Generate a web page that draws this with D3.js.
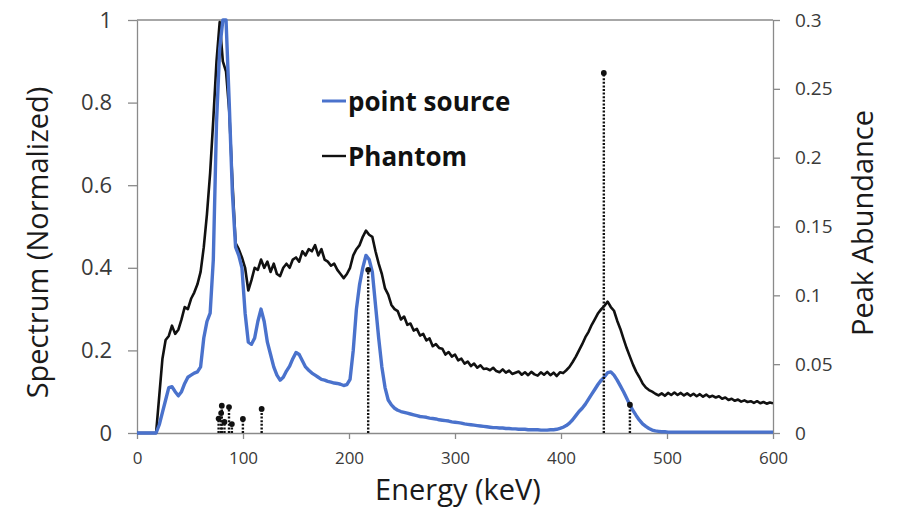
<!DOCTYPE html>
<html>
<head>
<meta charset="utf-8">
<script src="https://cdn.jsdelivr.net/npm/d3@7"></script>
<style>
  html, body { margin: 0; padding: 0; background: #fff; }
  svg { display: block; }
</style>
</head>
<body>
<svg id="chart" width="897" height="510"></svg>
<script>
// Channel width of both spectra, keV (channel i sits at i * energyStep)
const energyStep = 3;

// Normalized spectrum of the point source, 0 - 600 keV
const pointSource = [
  0, 0, 0, 0, 0, 0, 0, 0.02, 0.05, 0.08,
  0.11, 0.112, 0.10, 0.09, 0.10, 0.12, 0.135, 0.14, 0.145, 0.148,
  0.16, 0.23, 0.27, 0.29, 0.42, 0.75, 0.93, 1.0, 1.0, 0.80,
  0.58, 0.45, 0.43, 0.40, 0.29, 0.22, 0.215, 0.23, 0.27, 0.30,
  0.27, 0.22, 0.19, 0.16, 0.14, 0.128, 0.135, 0.15, 0.162, 0.18,
  0.195, 0.19, 0.175, 0.16, 0.152, 0.145, 0.14, 0.135, 0.13, 0.128,
  0.125, 0.123, 0.121, 0.12, 0.118, 0.115, 0.117, 0.13, 0.20, 0.30,
  0.36, 0.40, 0.43, 0.42, 0.39, 0.31, 0.23, 0.16, 0.11, 0.08,
  0.068, 0.06, 0.055, 0.052, 0.05, 0.048, 0.046, 0.044, 0.042, 0.04,
  0.039, 0.038, 0.036, 0.035, 0.034, 0.032, 0.031, 0.03, 0.029, 0.027,
  0.026, 0.025, 0.024, 0.022, 0.021, 0.02, 0.019, 0.018, 0.017, 0.016,
  0.015, 0.014, 0.013, 0.013, 0.012, 0.012, 0.011, 0.011, 0.01, 0.01,
  0.009, 0.009, 0.009, 0.008, 0.008, 0.008, 0.008, 0.007, 0.007, 0.007,
  0.008, 0.008, 0.009, 0.011, 0.014, 0.018, 0.024, 0.032, 0.042, 0.052,
  0.06, 0.07, 0.082, 0.094, 0.106, 0.118, 0.128, 0.136, 0.146, 0.148,
  0.14, 0.128, 0.114, 0.1, 0.084, 0.068, 0.054, 0.042, 0.031, 0.022,
  0.016, 0.011, 0.007, 0.005, 0.004, 0.003, 0.003, 0.002, 0.002, 0.002,
  0.002, 0.002, 0.002, 0.002, 0.002, 0.002, 0.002, 0.002, 0.002, 0.002,
  0.002, 0.002, 0.002, 0.002, 0.002, 0.002, 0.002, 0.002, 0.002, 0.002,
  0.002, 0.002, 0.002, 0.002, 0.002, 0.002, 0.002, 0.002, 0.002, 0.002,
  0.002
];

// Normalized spectrum measured in the phantom, 0 - 600 keV
const phantom = [
  0, 0, 0, 0, 0, 0, 0, 0.09, 0.18, 0.225,
  0.235, 0.26, 0.24, 0.25, 0.275, 0.305, 0.30, 0.325, 0.34, 0.36,
  0.39, 0.45, 0.53, 0.63, 0.76, 0.90, 0.995, 0.90, 0.875, 0.78,
  0.61, 0.46, 0.445, 0.425, 0.40, 0.345, 0.37, 0.40, 0.395, 0.42,
  0.40, 0.415, 0.39, 0.41, 0.385, 0.38, 0.40, 0.41, 0.40, 0.42,
  0.425, 0.415, 0.44, 0.43, 0.445, 0.44, 0.455, 0.43, 0.445, 0.42,
  0.415, 0.405, 0.41, 0.395, 0.385, 0.375, 0.385, 0.40, 0.43, 0.445,
  0.455, 0.475, 0.49, 0.48, 0.475, 0.44, 0.41, 0.385, 0.35, 0.335,
  0.31, 0.30, 0.295, 0.275, 0.282, 0.262, 0.265, 0.248, 0.252, 0.236,
  0.24, 0.224, 0.229, 0.21, 0.215, 0.206, 0.204, 0.19, 0.196, 0.185,
  0.19, 0.176, 0.18, 0.168, 0.173, 0.162, 0.168, 0.158, 0.164, 0.155,
  0.156, 0.152, 0.158, 0.15, 0.147, 0.154, 0.146, 0.151, 0.143, 0.146,
  0.149, 0.141, 0.147, 0.14, 0.148, 0.142, 0.139, 0.147, 0.141, 0.148,
  0.14, 0.146, 0.138, 0.147, 0.145, 0.152, 0.16, 0.172, 0.185, 0.2,
  0.215, 0.232, 0.245, 0.262, 0.276, 0.29, 0.3, 0.308, 0.318, 0.305,
  0.296, 0.272, 0.252, 0.228, 0.205, 0.185, 0.165, 0.148, 0.135, 0.12,
  0.11, 0.104, 0.1, 0.095, 0.091, 0.096, 0.09, 0.097, 0.092, 0.098,
  0.092, 0.097, 0.091, 0.096, 0.09, 0.095, 0.089, 0.094, 0.088, 0.093,
  0.087, 0.09, 0.086, 0.089, 0.083, 0.086, 0.08, 0.083, 0.078, 0.081,
  0.076, 0.079, 0.075, 0.077, 0.073, 0.077, 0.072, 0.075, 0.071, 0.074,
  0.072
];

// Emission lines: energy (keV) and abundance per decay (right axis)
const peakEnergy    = [77.0, 79.4, 80.0, 82.5, 86.8, 89.5, 99.9, 117.6, 218.1, 440.4, 465.0];
const peakAbundance = [0.0105, 0.0145, 0.0198, 0.008, 0.0188, 0.0065, 0.0102, 0.0175, 0.1185, 0.2615, 0.0206];

// Axis ticks and their labels
const energyTicks       = [0, 100, 200, 300, 400, 500, 600];
const energyTickLabels  = ["0", "100", "200", "300", "400", "500", "600"];
const spectrumTicks     = [0, 0.2, 0.4, 0.6, 0.8, 1];
const spectrumTickLabels = ["0", "0.2", "0.4", "0.6", "0.8", "1"];
const abundanceTicks    = [0, 0.05, 0.1, 0.15, 0.2, 0.25, 0.3];
const abundanceTickLabels = ["0", "0.05", "0.1", "0.15", "0.2", "0.25", "0.3"];

// Series names (legend order)
const seriesNames  = ["point source", "Phantom"];
const seriesColors = ["#4a72cc", "#111111"];

const FONT = "'Open Sans', 'Noto Sans', sans-serif";
const AXIS_GREY = "#8a8a8a";

const svg = d3.select("#chart");
const plot = { left: 137, right: 773, top: 20, bottom: 433 };

const x = d3.scaleLinear().domain([0, 600]).range([plot.left, plot.right]);
const y = d3.scaleLinear().domain([0, 1]).range([plot.bottom, plot.top]);
const yR = d3.scaleLinear().domain([0, 0.3]).range([plot.bottom, plot.top]);

svg.append("defs").append("clipPath").attr("id", "plot-clip")
  .append("rect")
  .attr("x", plot.left).attr("y", plot.top - 2)
  .attr("width", plot.right - plot.left).attr("height", plot.bottom - plot.top + 4);

// Frame line along the top of the plot
svg.append("line")
  .attr("x1", plot.left).attr("x2", plot.right)
  .attr("y1", plot.top).attr("y2", plot.top)
  .attr("stroke", AXIS_GREY).attr("stroke-width", 1.3);

function styleAxis(g, fontSize) {
  g.select(".domain").attr("stroke", AXIS_GREY).attr("stroke-width", 1.3);
  g.selectAll(".tick line").attr("stroke", AXIS_GREY).attr("stroke-width", 1.3);
  g.selectAll(".tick text")
    .attr("fill", "#3a3a3a")
    .style("font-family", FONT)
    .style("font-size", fontSize + "px");
}

// Bottom axis: energy
svg.append("g")
  .attr("transform", `translate(0,${plot.bottom})`)
  .call(d3.axisBottom(x).tickValues(energyTicks)
    .tickFormat((d, i) => energyTickLabels[i])
    .tickSizeInner(6).tickSizeOuter(0).tickPadding(13))
  .call(g => styleAxis(g, 17));

// Left axis: normalized spectrum
svg.append("g")
  .attr("transform", `translate(${plot.left},0)`)
  .call(d3.axisLeft(y).tickValues(spectrumTicks)
    .tickFormat((d, i) => spectrumTickLabels[i])
    .tickSizeInner(9).tickSizeOuter(0).tickPadding(16))
  .call(g => styleAxis(g, 22));

// Right axis: peak abundance
svg.append("g")
  .attr("transform", `translate(${plot.right},0)`)
  .call(d3.axisRight(yR).tickValues(abundanceTicks)
    .tickFormat((d, i) => abundanceTickLabels[i])
    .tickSizeInner(7).tickSizeOuter(0).tickPadding(15))
  .call(g => styleAxis(g, 19));

// Spectra
const line = d3.line()
  .x((d, i) => x(i * energyStep))
  .y(d => y(d));

const marks = svg.append("g").attr("clip-path", "url(#plot-clip)");

marks.append("path")
  .datum(phantom)
  .attr("d", line)
  .attr("fill", "none")
  .attr("stroke", seriesColors[1])
  .attr("stroke-width", 2.6)
  .attr("stroke-linejoin", "round");

marks.append("path")
  .datum(pointSource)
  .attr("d", line)
  .attr("fill", "none")
  .attr("stroke", seriesColors[0])
  .attr("stroke-width", 3.4)
  .attr("stroke-linejoin", "round");

// Emission-line stems on the abundance axis
const peaks = peakEnergy.map((e, i) => ({ e, a: peakAbundance[i] }));
const stems = svg.append("g");
stems.selectAll("line")
  .data(peaks)
  .join("line")
  .attr("x1", d => x(d.e)).attr("x2", d => x(d.e))
  .attr("y1", yR(0)).attr("y2", d => yR(d.a))
  .attr("stroke", "#111")
  .attr("stroke-width", 2.4)
  .attr("stroke-dasharray", "2 1.6");
stems.selectAll("circle")
  .data(peaks)
  .join("circle")
  .attr("cx", d => x(d.e)).attr("cy", d => yR(d.a))
  .attr("r", 2.9)
  .attr("fill", "#111");

// Legend
const legend = svg.append("g");
const legendRows = [101, 156];
seriesNames.forEach((name, i) => {
  legend.append("line")
    .attr("x1", 322).attr("x2", 346)
    .attr("y1", legendRows[i]).attr("y2", legendRows[i])
    .attr("stroke", seriesColors[i])
    .attr("stroke-width", i === 0 ? 3 : 2.4);
  legend.append("text")
    .attr("x", 348).attr("y", legendRows[i] + 10)
    .text(name)
    .attr("fill", "#111")
    .style("font-family", FONT)
    .style("font-weight", 700)
    .style("font-size", "26px");
});

// Axis titles
svg.append("text")
  .attr("transform", `translate(48,${(plot.top + plot.bottom) / 2 + 16}) rotate(-90)`)
  .attr("text-anchor", "middle")
  .text("Spectrum (Normalized)")
  .attr("fill", "#1a1a1a")
  .style("font-family", FONT)
  .style("font-size", "29px");

svg.append("text")
  .attr("transform", `translate(873,223) rotate(-90)`)
  .attr("text-anchor", "middle")
  .text("Peak Abundance")
  .attr("fill", "#1a1a1a")
  .style("font-family", FONT)
  .style("font-size", "29px");

svg.append("text")
  .attr("x", 458).attr("y", 500)
  .attr("text-anchor", "middle")
  .text("Energy (keV)")
  .attr("fill", "#1a1a1a")
  .style("font-family", FONT)
  .style("font-size", "29px");
</script>
</body>
</html>
